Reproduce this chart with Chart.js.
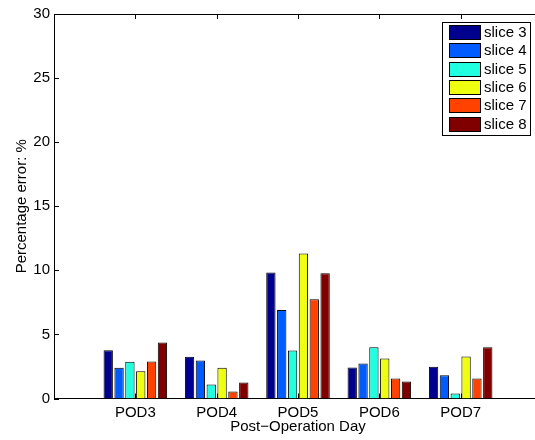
<!DOCTYPE html>
<html>
<head>
<meta charset="utf-8">
<script src="https://cdn.jsdelivr.net/npm/chart.js@4/dist/chart.umd.min.js"></script>
<style>
  html, body { margin: 0; padding: 0; background: #fff; overflow: hidden; }
  #wrap { width: 560px; height: 440px; }
</style>
</head>
<body>
<div id="wrap"><canvas id="podChart"></canvas></div>
<script>
// categories (empty slots at both ends mimic the MATLAB xlim 0..6)
const days = ['', 'POD3', 'POD4', 'POD5', 'POD6', 'POD7', ''];
const sliceNames = ['slice 3', 'slice 4', 'slice 5', 'slice 6', 'slice 7', 'slice 8'];
const sliceColors = ['#00008f', '#005cff', '#20ffdf', '#efff10', '#ff4200', '#800000'];

// percentage error per slice, POD3..POD7
const slice3 = [3.77, 3.25, 9.83, 2.42, 2.47];
const slice4 = [2.39, 2.96, 6.91, 2.73, 1.82];
const slice5 = [2.86, 1.09, 3.74, 4.00, 0.39];
const slice6 = [2.13, 2.39, 11.31, 3.12, 3.27];
const slice7 = [2.89, 0.55, 7.75, 1.56, 1.56];
const slice8 = [4.37, 1.25, 9.77, 1.33, 4.00];

const yTicks = [0, 5, 10, 15, 20, 25, 30];

const seriesList = [slice3, slice4, slice5, slice6, slice7, slice8];
const fontFam = '"Liberation Sans", Arial, Helvetica, sans-serif';

// ticks pointing inward, top box line and the boxed legend
const matlabBox = {
    id: 'matlabBox',
    afterDatasetsDraw(chart) {
        const c = chart.ctx;
        const area = chart.chartArea;
        const xs = chart.scales.x;
        const ys = chart.scales.y;
        c.save();
        c.strokeStyle = '#000';
        c.lineWidth = 1;
        c.beginPath();
        c.moveTo(area.left, Math.round(area.top) + 0.5);
        c.lineTo(area.right, Math.round(area.top) + 0.5);
        yTicks.forEach(function (v) {
            const y = Math.round(ys.getPixelForValue(v)) + 0.5;
            c.moveTo(area.left, y);
            c.lineTo(area.left + 5, y);
        });
        for (let i = 1; i < days.length - 1; i++) {
            const x = Math.round(xs.getPixelForValue(i)) + 0.5;
            c.moveTo(x, area.top);
            c.lineTo(x, area.top + 5);
            c.moveTo(x, area.bottom);
            c.lineTo(x, area.bottom - 5);
        }
        c.stroke();

        // legend
        const lx = 442, ly = 22, lw = 88, lh = 113;
        c.fillStyle = '#fff';
        c.fillRect(lx, ly, lw, lh);
        c.strokeRect(lx + 0.5, ly + 0.5, lw, lh);
        c.font = '15px ' + fontFam;
        c.textBaseline = 'middle';
        c.textAlign = 'left';
        chart.data.datasets.forEach(function (ds, i) {
            const top = Math.round(ly + 3 + i * 18.3);
            c.fillStyle = ds.backgroundColor;
            c.fillRect(lx + 7, top, 31, 14);
            c.strokeRect(lx + 7.5, top + 0.5, 31, 14);
            c.fillStyle = '#000';
            c.fillText(ds.label, lx + 42, top + 8);
        });
        c.restore();
    }
};

const ctx = document.getElementById('podChart');
new Chart(ctx, {
    type: 'bar',
    data: {
        labels: days,
        datasets: sliceNames.map(function (name, i) {
            return {
                label: name,
                data: [null].concat(seriesList[i], [null]),
                backgroundColor: sliceColors[i],
                borderColor: '#000',
                borderWidth: 1,
                categoryPercentage: 0.8,
                barPercentage: 0.86
            };
        })
    },
    options: {
        responsive: true,
        maintainAspectRatio: false,
        animation: false,
        layout: { padding: { left: 0, right: 18, top: 14, bottom: 0 } },
        plugins: {
            legend: { display: false },
            tooltip: { enabled: false }
        },
        scales: {
            x: {
                offset: false,
                grid: { display: false, drawTicks: false },
                border: { display: true, color: '#000', width: 1 },
                ticks: {
                    color: '#000',
                    font: { family: fontFam, size: 15 },
                    padding: 5,
                    maxRotation: 0,
                    autoSkip: false
                },
                title: {
                    display: true,
                    text: 'Post\u2212Operation Day',
                    color: '#000',
                    font: { family: fontFam, size: 15 },
                    padding: { top: 0, bottom: 4 }
                },
                afterFit: function (scale) { scale.height = 41.5; }
            },
            y: {
                min: 0,
                max: 30,
                grid: { display: false, drawTicks: false },
                border: { display: true, color: '#000', width: 1 },
                ticks: {
                    stepSize: 5,
                    color: '#000',
                    font: { family: fontFam, size: 15 },
                    padding: 4
                },
                title: {
                    display: true,
                    text: 'Percentage error: %',
                    color: '#000',
                    font: { family: fontFam, size: 15 },
                    padding: { top: 13, bottom: 0 }
                },
                afterFit: function (scale) { scale.width = 54; }
            }
        }
    },
    plugins: [matlabBox]
});
</script>
</body>
</html>
